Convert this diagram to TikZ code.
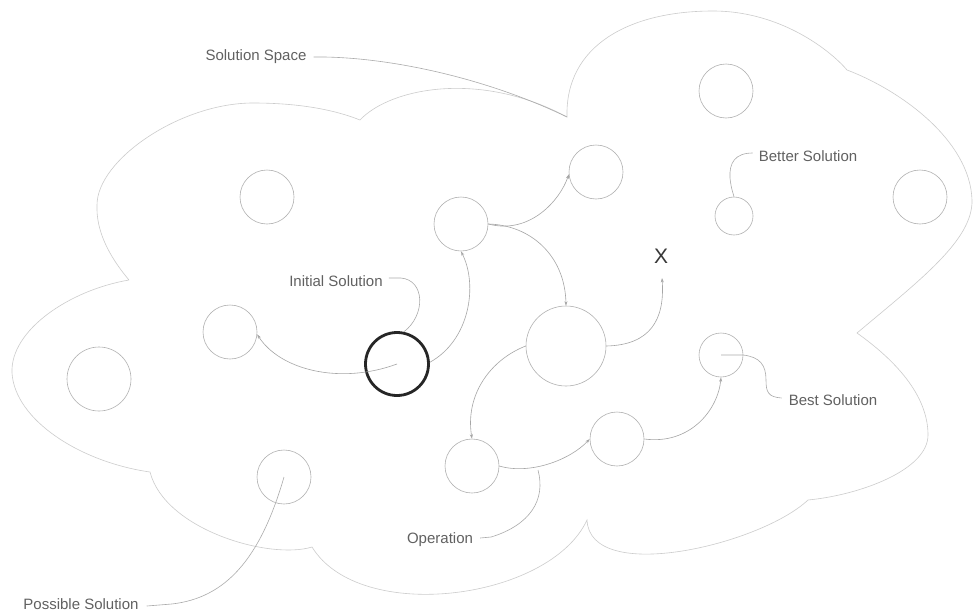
\documentclass[tikz,border=0pt]{standalone}
\usepackage{fontspec}
\setmainfont{Liberation Sans}
\usetikzlibrary{arrows.meta}
\begin{document}
\begin{tikzpicture}[x=1pt,y=-1pt,
  cloudline/.style={draw=black!20, line width=0.6pt},
  sol/.style={circle, draw=black!30, line width=0.6pt, inner sep=0pt, minimum size=54pt},
  initsol/.style={circle, draw=black!85, line width=2.8pt, inner sep=0pt, minimum size=63pt},
  link/.style={draw=black!35, line width=0.6pt, -{Stealth[length=4.5pt,width=3pt]}},
  leader/.style={draw=black!33, line width=0.6pt},
  lbl/.style={font=\fontsize{15}{18}\selectfont, text=black!62, inner sep=0pt},
]
\fill[white] (0,0) rectangle (973,613);
\useasboundingbox (0,0) rectangle (973,613);

% cloud outline (solution space)
\coordinate (A) at (129,280);
\coordinate (B) at (360,120);
\coordinate (C) at (567,117);
\coordinate (D) at (847,70);
\coordinate (E) at (857,333);
\coordinate (F) at (808,500);
\coordinate (G) at (587,520);
\coordinate (H) at (312,547);
\coordinate (I) at (150,472);
\path[cloudline]
  (A) .. controls (108,255) and (96,230) .. (97,205)
      .. controls (97,160) and (180,103) .. (253,103)
      .. controls (300,103) and (335,110) .. (B)
      .. controls (390,88) and (480,70) .. (C)
      .. controls (565,45) and (630,11) .. (713,11)
      .. controls (780,11) and (830,50) .. (D)
      .. controls (900,90) and (970,140) .. (972,200)
      .. controls (973,240) and (920,280) .. (E)
      .. controls (895,360) and (928,395) .. (928,435)
      .. controls (928,470) and (860,495) .. (F)
      .. controls (760,545) and (590,585) .. (G)
      .. controls (550,600) and (360,625) .. (H)
      .. controls (270,560) and (165,530) .. (I)
      .. controls (80,462) and (15,420) .. (12,373)
      .. controls (10,330) and (70,290) .. (A);

% solutions
\node[sol] (c1) at (267,197) {};
\node[sol] (c2) at (461,224) {};
\node[sol] (c3) at (596,172) {};
\node[sol] (c4) at (726,91) {};
\node[sol, minimum size=38pt] (c5) at (734,216) {};
\node[sol] (c6) at (920,197) {};
\node[initsol] (c7) at (397,364) {};
\node[sol] (c8) at (230,332) {};
\node[sol, minimum size=64pt] (c9) at (99,379) {};
\node[sol] (c10) at (284,477) {};
\node[sol, minimum size=80pt] (c11) at (566,346) {};
\node[sol] (c12) at (472,466) {};
\node[sol] (c13) at (617,439) {};
\node[sol, minimum size=44pt] (c14) at (721,355) {};

\node[font=\fontsize{21}{24}\selectfont, text=black!78, inner sep=0pt] (xm) at (661,256) {X};
\coordinate (xend) at (662,278);

% operations
\draw[link] (c7.center) .. controls (340,385) and (280,370) .. (c8.-5);
\draw[link] (c7.3) .. controls (470,340) and (478,285) .. (c2.south);
\draw[link] (c2.east) .. controls (530,235) and (560,200) .. (c3.185);
\draw[link] (c2.east) .. controls (530,225) and (565,255) .. (c11.north);
\draw[link] (c11.east) .. controls (650,345) and (665,320) .. (xend);
\draw[link] (c11.west) .. controls (490,360) and (465,395) .. (c12.north);
\draw[link] (c12.east) .. controls (530,475) and (570,460) .. (c13.west);
\draw[link] (c13.east) .. controls (690,445) and (718,410) .. (c14.south);

% labels and leaders
\node[lbl] (tspace) at (256,57) {Solution Space};
\path[leader] (tspace.east) ++(7,0) coordinate (sp0)
  (sp0) .. controls (380,56) and (480,75) .. (C);

\node[lbl] (tinit) at (336,281) {Initial Solution};
\path[leader] (tinit.east) ++(6,-3) coordinate (in0)
  (in0) -- ++(12,0) .. controls (425,280) and (426,315) .. (c7.78);

\node[lbl] (tbetter) at (808,156) {Better Solution};
\path[leader] (tbetter.west) ++(-6,-3) coordinate (bt0)
  (bt0) .. controls (735,153) and (729,163) .. (730,178)
  .. controls (731,188) and (733,193) .. (c5.north);

\node[lbl] (tbest) at (833,400) {Best Solution};
\path[leader] (c14.center) -- (743,355)
  .. controls (760,357) and (766,365) .. (766,380)
  .. controls (766,392) and (768,397) .. ([xshift=-7pt,yshift=2pt]tbest.west);

\node[lbl] (top) at (440,540) {Operation};
\coordinate (opend) at (538,470);
\path[leader] ([xshift=7pt,yshift=2pt]top.east) -- ++(11,-1)
  .. controls (530,525) and (546,500) .. (opend);

\node[lbl] (tposs) at (81,604) {Possible Solution};
\path[leader] ([xshift=8pt,yshift=-2pt]tposs.east) -- ++(25,-2)
  .. controls (225,598) and (260,560) .. (c10.center);
\end{tikzpicture}
\end{document}
